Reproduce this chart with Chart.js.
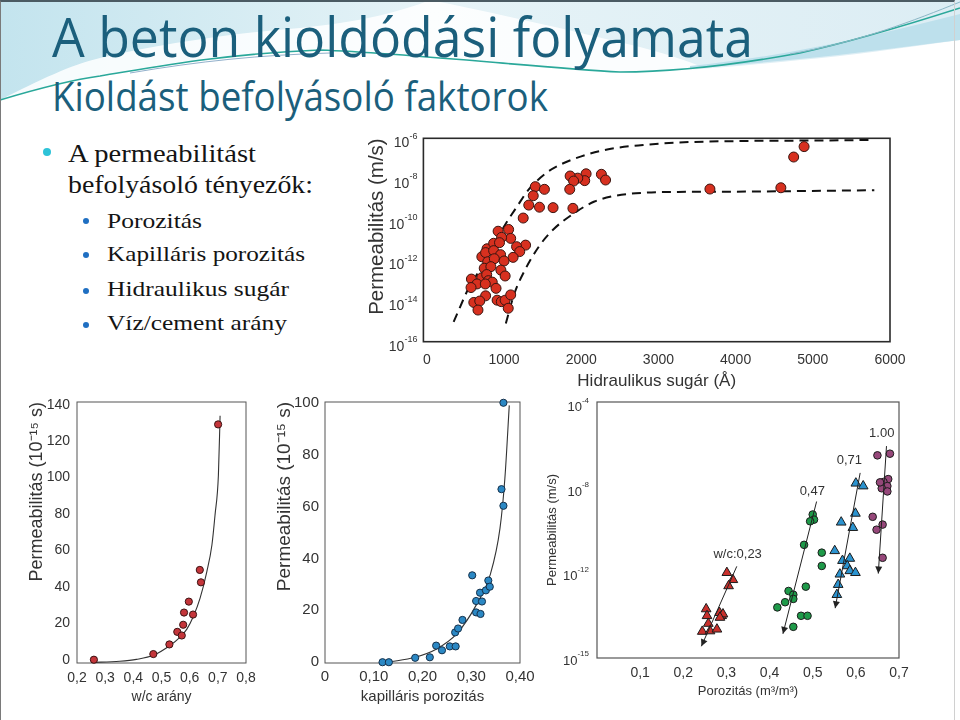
<!DOCTYPE html>
<html lang="hu">
<head>
<meta charset="utf-8">
<title>A beton kioldódási folyamata</title>
<script src="https://cdn.jsdelivr.net/npm/chart.js@4.4.1/dist/chart.umd.min.js"></script>
<style>
  html, body { margin: 0; padding: 0; }
  body { width: 960px; height: 720px; position: relative; overflow: hidden; background: #fff; }
  .edge { position: absolute; left: 0; top: 0; width: 955px; height: 720px; box-sizing: border-box;
          border-top: 2px solid #4b5b63; border-left: 1px solid #7a7a7a; border-right: 1px solid #d0d0d0; }
  .deco { position: absolute; left: 0; top: 0; }
  .txt { position: absolute; white-space: nowrap; line-height: 1; transform-origin: 0 0; }
  .head { font-family: 'Open Sans', 'Noto Sans', sans-serif; color: #1b5f7c; }
  .bl { font-family: 'Liberation Serif', 'DejaVu Serif', serif; color: #141414; }
  .dot { position: absolute; border-radius: 50%; }
  .dot.main { width: 8px; height: 8px; background: #2ec3d8; }
  .dot.sub { width: 6px; height: 6px; background: #1f6fc2; }
  canvas { position: absolute; }
  #hydChart { background: #fff; }
</style>
</head>
<body>
<svg class="deco" width="960" height="130" viewBox="0 0 960 130">
  <defs>
    <linearGradient id="pale" x1="0" y1="0" x2="1" y2="0">
      <stop offset="0" stop-color="#c3e4ee"/>
      <stop offset="0.45" stop-color="#e6f3f7"/>
      <stop offset="1" stop-color="#dcedf4"/>
    </linearGradient>
  </defs>
  <path d="M0,0 H960 V40 C900,48 850,56 800,60 C740,66 680,72 620,72 C540,68 420,54 320,50 C220,54 150,68 100,76 C70,80 40,88 0,100 Z" fill="url(#pale)"/>
  <path d="M0,100 C40,80 70,65 100,58 C160,44 233,33 300,28 C360,22 400,12 430,0 C490,12 560,28 640,47 C670,55 690,62 705,68 C680,72 650,72 620,72 C540,68 420,54 320,50 C220,54 150,68 100,76 C70,80 40,88 0,100 Z" fill="#fff" opacity="0.85"/>
  <path d="M690,66 C790,56 880,34 960,14 V40 C880,50 790,62 690,68 Z" fill="#bde0ec"/>
  <path d="M0,100 C40,88 70,80 100,76 C150,68 220,54 320,50 C420,54 540,68 620,72 C680,72 740,64 800,53 C850,42 910,24 960,8" fill="none" stroke="#2aa89a" stroke-width="1.6"/>
  <path d="M130,73 C200,61 260,55 330,53" fill="none" stroke="#3a6fa0" stroke-width="0.8" opacity="0.7"/>
  <path d="M790,54 C860,42 915,20 960,2" fill="none" stroke="#8bb7c6" stroke-width="1"/>
</svg>
<div class="edge"></div>

<div class="txt head" data-w="701" style="left:52px;top:8px;font-size:55px">A beton kioldódási folyamata</div>
<div class="txt head" data-w="496" style="left:52px;top:76px;font-size:40px">Kioldást befolyásoló faktorok</div>

<span class="dot main" style="left:43px;top:148px"></span>
<div class="txt bl" data-w="188" style="left:68px;top:141px;font-size:25px">A permeabilitást</div>
<div class="txt bl" data-w="245" style="left:68px;top:172px;font-size:25px">befolyásoló tényezők:</div>
<span class="dot sub" style="left:83px;top:218px"></span>
<div class="txt bl" data-w="95" style="left:107px;top:211px;font-size:21px">Porozitás</div>
<span class="dot sub" style="left:83px;top:252px"></span>
<div class="txt bl" data-w="198" style="left:107px;top:244px;font-size:21px">Kapilláris porozitás</div>
<span class="dot sub" style="left:83px;top:288px"></span>
<div class="txt bl" data-w="182" style="left:107px;top:279px;font-size:21px">Hidraulikus sugár</div>
<span class="dot sub" style="left:83px;top:322px"></span>
<div class="txt bl" data-w="180" style="left:107px;top:313px;font-size:21px">Víz/cement arány</div>

<canvas id="hydChart" width="545" height="265" style="left:365px;top:130px"></canvas>
<canvas id="wcChart" width="250" height="320" style="left:20px;top:395px"></canvas>
<canvas id="capChart" width="270" height="320" style="left:270px;top:395px"></canvas>
<canvas id="porChart" width="420" height="320" style="left:540px;top:395px"></canvas>

<script>
// hidraulikus sugár (Å) - permeabilitás (m/s)
const hydRadius = [4887, 4752, 3667, 4586, 2261, 2315, 2063, 2045, 1955, 1856, 1901, 1851, 1892, 1635, 1459,
  1405, 1523, 1378, 1320, 1248, 1279, 1059, 1086, 923, 968, 1162, 1203, 1117, 779, 865, 941, 712, 761, 865, 955,
  788, 874, 1000, 743, 829, 959, 1014, 577, 712, 775, 797, 847, 649, 572, 757, 896, 761, 608, 685, 662, 910, 964,
  1014, 1086, 1054];
const hydPerm = [3.9e-7, 1.2e-7, 3.2e-9, 3.7e-9, 1.7e-8, 8.9e-9, 1.8e-8, 8.3e-9, 1.1e-8, 1.4e-8, 7.9e-9, 3.1e-9,
  3.6e-10, 3.9e-10, 4.1e-10, 4.2e-9, 3.1e-9, 1.5e-9, 5.2e-10, 1.2e-10, 5.6e-12, 3.3e-11, 1.2e-11, 2.7e-11, 1.35e-11,
  4.7e-12, 2.7e-12, 1.4e-12, 3.7e-12, 6.9e-12, 7.4e-12, 1.5e-12, 2.4e-12, 3.0e-12, 1.9e-12, 8.5e-13, 1.2e-12, 9.3e-13,
  4.1e-13, 4.9e-13, 3.3e-13, 1.7e-13, 1.2e-13, 1.4e-13, 2.0e-13, 1.0e-13, 8.5e-14, 6.9e-14, 4.6e-14, 6.9e-14, 4.2e-14,
  1.8e-14, 8.5e-15, 1.0e-14, 3.6e-15, 1.1e-14, 9.3e-15, 1.1e-14, 2.0e-14, 4.4e-15];
const upperX = [347, 550, 685, 820, 1000, 1180, 1315, 1541, 1721, 1991, 2351, 2802, 3252, 4153, 5054, 5797];
const upperY = [9.5e-16, 5.0e-14, 3.3e-13, 2.7e-12, 4.6e-11, 5.2e-10, 2.9e-9, 1.9e-8, 4.9e-8, 1.26e-7, 2.9e-7,
  4.7e-7, 6.2e-7, 7.4e-7, 7.8e-7, 8.3e-7];
const lowerX = [1023, 1135, 1270, 1450, 1631, 1901, 2171, 2441, 2802, 3252, 4153, 5797];
const lowerY = [7.9e-16, 2.4e-14, 3.3e-13, 4.7e-12, 3.1e-11, 2.0e-10, 7.8e-10, 1.5e-9, 2.1e-9, 2.3e-9, 2.4e-9, 2.8e-9];
const hydXTicks = [0, 1000, 2000, 3000, 4000, 5000, 6000];
const hydYTicks = [1e-16, 1e-14, 1e-12, 1e-10, 1e-8, 1e-6];
const hydYExp = ['-16', '-14', '-12', '-10', '-8', '-6'];

// w/c arány - permeabilitás (10^-15 s)
const wcRatio = [0.26, 0.471, 0.528, 0.556, 0.572, 0.577, 0.580, 0.597, 0.612, 0.636, 0.640, 0.701];
const wcPerm = [0, 3.1, 8.4, 15.3, 13.3, 19.2, 25.9, 31.9, 24.8, 49.3, 42.5, 129.2];
const wcFitX = [0.251, 0.352, 0.411, 0.471, 0.530, 0.566, 0.590, 0.613, 0.637, 0.661, 0.679, 0.690, 0.702, 0.708];
const wcFitY = [-1.5, -0.8, 0.2, 2.4, 7.8, 12.4, 16.8, 23.7, 33.8, 48.4, 63.0, 79.4, 101.3, 134];
const wcXTicks = [0.2, 0.3, 0.4, 0.5, 0.6, 0.7, 0.8];
const wcXLabels = ['0,2', '0,3', '0,4', '0,5', '0,6', '0,7', '0,8'];
const wcYTicks = [0, 20, 40, 60, 80, 100, 120, 140];

// kapilláris porozitás - permeabilitás (10^-15 s)
const capPor = [0.118, 0.131, 0.185, 0.215, 0.228, 0.240, 0.256, 0.268, 0.267, 0.273, 0.282, 0.302, 0.310, 0.310,
  0.319, 0.318, 0.322, 0.330, 0.335, 0.338, 0.362, 0.366, 0.366];
const capPerm = [0, 0, 1.7, 1.9, 6.4, 4.6, 6.1, 6.1, 11.5, 13.0, 16.3, 33.5, 23.6, 19.2, 18.6, 26.8, 23.4, 27.7,
  31.5, 29.1, 66.7, 60.3, 100];
const capFitX = [0.130, 0.185, 0.229, 0.270, 0.311, 0.339, 0.359, 0.369, 0.378];
const capFitY = [0, 1.9, 5.1, 10.9, 22.3, 33.8, 51.7, 70.9, 99.0];
const capXTicks = [0, 0.1, 0.2, 0.3, 0.4];
const capXLabels = ['0', '0,10', '0,20', '0,30', '0,40'];
const capYTicks = [0, 20, 40, 60, 80, 100];

// porozitás (m3/m3) - permeabilitás (m/s), w/c szerint
const wc023X = [0.301, 0.315, 0.305, 0.253, 0.255, 0.258, 0.244, 0.262, 0.278, 0.284, 0.289, 0.292, 0.285];
const wc023Y = [1.1e-12, 5.1e-13, 2.6e-13, 2.1e-14, 1.0e-14, 4.3e-15, 1.8e-15, 1.9e-15, 2.3e-15, 1.4e-14, 1.0e-14,
  1.2e-14, 8.3e-15];
const wc047X = [0.500, 0.503, 0.494, 0.480, 0.521, 0.521, 0.484, 0.444, 0.455, 0.455, 0.436, 0.418, 0.473, 0.488, 0.455];
const wc047Y = [6.3e-10, 3.6e-10, 3.0e-10, 2.3e-11, 9.8e-12, 2.3e-12, 2.4e-13, 1.5e-13, 1.0e-13, 6.3e-14, 4.4e-14,
  2.5e-14, 1.0e-14, 1.0e-14, 3.0e-15];
const wc071X = [0.600, 0.617, 0.599, 0.566, 0.593, 0.551, 0.569, 0.586, 0.580, 0.586, 0.599, 0.563, 0.559, 0.556];
const wc071Y = [1.9e-8, 1.4e-8, 7.1e-10, 2.7e-10, 1.5e-10, 1.2e-11, 4.1e-12, 5.2e-12, 2.3e-12, 1.35e-12, 1.1e-12,
  9.3e-13, 3.0e-13, 1.0e-13];
const wc100X = [0.650, 0.679, 0.675, 0.664, 0.673, 0.660, 0.673, 0.656, 0.639, 0.662, 0.648, 0.662];
const wc100Y = [4.0e-7, 4.8e-7, 3.0e-8, 2.2e-8, 1.4e-8, 1.1e-8, 7.8e-9, 2.1e-8, 4.9e-10, 2.1e-10, 1.2e-10, 5.6e-12];
const arrow023X = [0.324, 0.242];
const arrow023Y = [2.2e-12, 3.6e-16];
const arrow047X = [0.509, 0.431];
const arrow047Y = [2.6e-9, 1.4e-15];
const arrow071X = [0.610, 0.552];
const arrow071Y = [5.9e-8, 2.3e-14];
const arrow100X = [0.671, 0.652];
const arrow100Y = [1.1e-6, 1.0e-12];
const wcNames = ['w/c:0,23', '0,47', '0,71', '1.00'];
const wcNameX = [0.326, 0.499, 0.585, 0.660];
const wcNameY = [8.1e-12, 7.8e-9, 2.3e-7, 4.4e-6];
const porXTicks = [0.1, 0.2, 0.3, 0.4, 0.5, 0.6, 0.7];
const porXLabels = ['0,1', '0,2', '0,3', '0,4', '0,5', '0,6', '0,7'];
const porYTicks = [1e-16, 1e-12, 1e-8, 1e-4];
const porYExp = ['-15', '-12', '-8', '-4'];

// fit slide text widths (no Calibri / Book Antiqua available)
document.querySelectorAll('[data-w]').forEach(el => {
  const w = el.getBoundingClientRect().width;
  el.style.transform = 'scaleX(' + (el.dataset.w / w) + ')';
});

Chart.defaults.font.family = "'Liberation Sans', Arial, sans-serif";
Chart.defaults.color = '#333';

function pairs(xs, ys) {
  return xs.map((x, i) => ({x: x, y: ys[i]}));
}

function fixedTicks(values) {
  return scale => { scale.ticks = values.map(v => ({value: v})); };
}

// fixed axis box, and no extra room for overhanging tick labels
function boxSize(size) {
  return scale => {
    if (scale.isHorizontal()) {scale.height = size;} else {scale.width = size;}
    scale.paddingLeft = scale.paddingRight = scale.paddingTop = scale.paddingBottom = 0;
  };
}

const plotFrame = {
  id: 'plotFrame',
  beforeDatasetsDraw(chart, args, opts) {
    const {ctx, chartArea: a} = chart;
    ctx.save();
    ctx.strokeStyle = opts.color;
    ctx.lineWidth = opts.width;
    ctx.strokeRect(a.left, a.top, a.right - a.left, a.bottom - a.top);
    ctx.restore();
  }
};

// "10" with a raised exponent for the log axes
const powerTicks = {
  id: 'powerTicks',
  afterDraw(chart, args, opts) {
    const ctx = chart.ctx;
    const scale = chart.scales.y;
    ctx.save();
    ctx.fillStyle = opts.color;
    ctx.textAlign = 'right';
    ctx.textBaseline = 'middle';
    scale.ticks.forEach((tick, i) => {
      const y = scale.getPixelForValue(tick.value);
      const x = scale.right - opts.gap;
      ctx.font = opts.supSize + 'px ' + Chart.defaults.font.family;
      ctx.fillText(opts.labels[i], x, y + opts.supShift);
      const w = ctx.measureText(opts.labels[i]).width;
      ctx.font = opts.size + 'px ' + Chart.defaults.font.family;
      ctx.fillText('10', x - w, y + opts.baseShift);
    });
    ctx.restore();
  }
};

const arrowHeads = {
  id: 'arrowHeads',
  afterDatasetsDraw(chart, args, opts) {
    const ctx = chart.ctx;
    chart.data.datasets.forEach((ds, i) => {
      if (!ds.arrow) {return;}
      const pts = chart.getDatasetMeta(i).data;
      const a = pts[pts.length - 2];
      const b = pts[pts.length - 1];
      ctx.save();
      ctx.translate(b.x, b.y);
      ctx.rotate(Math.atan2(b.y - a.y, b.x - a.x));
      ctx.beginPath();
      ctx.moveTo(0, 0);
      ctx.lineTo(-opts.length, -opts.half);
      ctx.lineTo(-opts.length, opts.half);
      ctx.closePath();
      ctx.fillStyle = ds.borderColor;
      ctx.fill();
      ctx.restore();
    });
  }
};

const seriesNames = {
  id: 'seriesNames',
  afterDatasetsDraw(chart, args, opts) {
    const {ctx, scales: {x, y}} = chart;
    ctx.save();
    ctx.font = opts.size + 'px ' + Chart.defaults.font.family;
    ctx.fillStyle = opts.color;
    ctx.textAlign = 'center';
    ctx.textBaseline = 'middle';
    opts.text.forEach((t, i) => {
      ctx.fillText(t, x.getPixelForValue(opts.x[i]), y.getPixelForValue(opts.y[i]));
    });
    ctx.restore();
  }
};

const baseOptions = {
  responsive: false,
  animation: false,
  events: [],
};

function hiddenGrid() {
  return {grid: {display: false, drawTicks: false}, border: {display: false}};
}

// --- hidraulikus sugár ---
new Chart(document.getElementById('hydChart'), {
  type: 'scatter',
  data: {
    datasets: [
      {data: pairs(hydRadius, hydPerm), pointRadius: 5, backgroundColor: '#d7301f', borderColor: '#3a1510',
        borderWidth: 1, clip: false},
      {data: pairs(upperX, upperY), showLine: true, pointRadius: 0, borderColor: '#111', borderWidth: 2,
        borderDash: [9, 6], cubicInterpolationMode: 'monotone'},
      {data: pairs(lowerX, lowerY), showLine: true, pointRadius: 0, borderColor: '#111', borderWidth: 2,
        borderDash: [9, 6], cubicInterpolationMode: 'monotone'},
    ]
  },
  options: {
    ...baseOptions,
    layout: {padding: {left: 0, top: 8.3, right: 20, bottom: 3.1}},
    plugins: {
      legend: {display: false},
      tooltip: {enabled: false},
      plotFrame: {color: '#2a2a2a', width: 1.6},
      powerTicks: {labels: hydYExp, size: 14, supSize: 9, gap: 6, baseShift: 5, supShift: -2, color: '#333'},
    },
    scales: {
      x: {
        type: 'linear', min: -45, max: 6000, ...hiddenGrid(),
        afterBuildTicks: fixedTicks(hydXTicks), afterFit: boxSize(50.2),
        ticks: {padding: 9.9, font: {size: 14}, autoSkip: false, maxRotation: 0, callback: v => String(v)},
        title: {display: true, text: 'Hidraulikus sugár (Å)', font: {size: 17}, padding: 0},
      },
      y: {
        type: 'logarithmic', min: 1e-16, max: 1e-6, ...hiddenGrid(),
        afterBuildTicks: fixedTicks(hydYTicks), afterFit: boxSize(58.4),
        ticks: {display: false},
        title: {display: true, text: 'Permeabilitás (m/s)', align: 'end', font: {size: 20.5}, padding: 0},
      }
    }
  },
  plugins: [plotFrame, powerTicks]
});

// --- w/c arány ---
new Chart(document.getElementById('wcChart'), {
  type: 'scatter',
  data: {
    datasets: [
      {data: pairs(wcRatio, wcPerm), pointRadius: 3.6, backgroundColor: '#c4353a', borderColor: '#3a1212',
        borderWidth: 1, clip: false},
      {data: pairs(wcFitX, wcFitY), showLine: true, pointRadius: 0, borderColor: '#333', borderWidth: 1.1,
        cubicInterpolationMode: 'monotone'},
    ]
  },
  options: {
    ...baseOptions,
    layout: {padding: {left: 6, top: 7, right: 24, bottom: 9.9}},
    plugins: {
      legend: {display: false},
      tooltip: {enabled: false},
      plotFrame: {color: '#555', width: 1},
    },
    scales: {
      x: {
        type: 'linear', min: 0.2, max: 0.8, ...hiddenGrid(),
        afterBuildTicks: fixedTicks(wcXTicks), afterFit: boxSize(42.1),
        ticks: {padding: 6.6, font: {size: 14}, autoSkip: false, maxRotation: 0,
          callback: (v, i) => wcXLabels[i]},
        title: {display: true, text: 'w/c arány', font: {size: 14}, padding: 0},
      },
      y: {
        type: 'linear', min: -1.8, max: 141.5, ...hiddenGrid(),
        afterBuildTicks: fixedTicks(wcYTicks), afterFit: boxSize(51),
        ticks: {padding: 7, font: {size: 14, lineHeight: 1}},
        title: {display: true, text: 'Permeabilitás (10⁻¹⁵ s)', align: 'end', font: {size: 18}, padding: 0},
      }
    }
  },
  plugins: [plotFrame]
});

// --- kapilláris porozitás ---
new Chart(document.getElementById('capChart'), {
  type: 'scatter',
  data: {
    datasets: [
      {data: pairs(capPor, capPerm), pointRadius: 3.6, backgroundColor: '#2b88c4', borderColor: '#15304a',
        borderWidth: 1, clip: false},
      {data: pairs(capFitX, capFitY), showLine: true, pointRadius: 0, borderColor: '#333', borderWidth: 1.1,
        cubicInterpolationMode: 'monotone'},
    ]
  },
  options: {
    ...baseOptions,
    layout: {padding: {left: 3.6, top: 7, right: 20, bottom: 9.3}},
    plugins: {
      legend: {display: false},
      tooltip: {enabled: false},
      plotFrame: {color: '#555', width: 1},
    },
    scales: {
      x: {
        type: 'linear', min: 0, max: 0.4, ...hiddenGrid(),
        afterBuildTicks: fixedTicks(capXTicks), afterFit: boxSize(42.7),
        ticks: {padding: 5, font: {size: 15}, autoSkip: false, maxRotation: 0,
          callback: (v, i) => capXLabels[i]},
        title: {display: true, text: 'kapilláris porozitás', font: {size: 15}, padding: 0},
      },
      y: {
        type: 'linear', min: -0.3, max: 100.3, ...hiddenGrid(),
        afterBuildTicks: fixedTicks(capYTicks), afterFit: boxSize(51.4),
        ticks: {padding: 6, font: {size: 15, lineHeight: 1}},
        title: {display: true, text: 'Permeabilitás (10⁻¹⁵ s)', align: 'end', font: {size: 19}, padding: 0},
      }
    }
  },
  plugins: [plotFrame]
});

// --- porozitás, w/c szerint ---
function arrowSet(xs, ys) {
  return {data: pairs(xs, ys), showLine: true, pointRadius: 0, borderColor: '#222', borderWidth: 1, arrow: true,
    clip: false};
}

function markSet(xs, ys, color, style) {
  return {data: pairs(xs, ys), pointStyle: style, pointRadius: style === 'triangle' ? 5.6 : 3.8,
    backgroundColor: color, borderColor: '#1c1c1c', borderWidth: 1, clip: false};
}

new Chart(document.getElementById('porChart'), {
  type: 'scatter',
  data: {
    datasets: [
      arrowSet(arrow023X, arrow023Y),
      arrowSet(arrow047X, arrow047Y),
      arrowSet(arrow071X, arrow071Y),
      arrowSet(arrow100X, arrow100Y),
      markSet(wc023X, wc023Y, '#c9302c', 'triangle'),
      markSet(wc047X, wc047Y, '#1e9a49', 'circle'),
      markSet(wc071X, wc071Y, '#2b93cf', 'triangle'),
      markSet(wc100X, wc100Y, '#96477a', 'circle'),
    ]
  },
  options: {
    ...baseOptions,
    layout: {padding: {left: 5, top: 7, right: 61, bottom: 16.2}},
    plugins: {
      legend: {display: false},
      tooltip: {enabled: false},
      plotFrame: {color: '#555', width: 1.2},
      powerTicks: {labels: porYExp, size: 13, supSize: 8, gap: 8, baseShift: 3, supShift: -4, color: '#333'},
      arrowHeads: {length: 7, half: 3.5},
      seriesNames: {text: wcNames, x: wcNameX, y: wcNameY, size: 13, color: '#333'},
    },
    scales: {
      x: {
        type: 'linear', min: 0, max: 0.7, ...hiddenGrid(),
        afterBuildTicks: fixedTicks(porXTicks), afterFit: boxSize(40.8),
        ticks: {padding: 6.3, font: {size: 14}, autoSkip: false, maxRotation: 0,
          callback: (v, i) => porXLabels[i]},
        title: {display: true, text: 'Porozitás (m³/m³)', font: {size: 13}, padding: 0},
      },
      y: {
        type: 'logarithmic', min: 1e-16, max: 1.35e-4, ...hiddenGrid(),
        afterBuildTicks: fixedTicks(porYTicks), afterFit: boxSize(52),
        ticks: {display: false},
        title: {display: true, text: 'Permeabilitás (m/s)', font: {size: 13}, padding: 0},
      }
    }
  },
  plugins: [plotFrame, powerTicks, arrowHeads, seriesNames]
});
</script>
</body>
</html>
